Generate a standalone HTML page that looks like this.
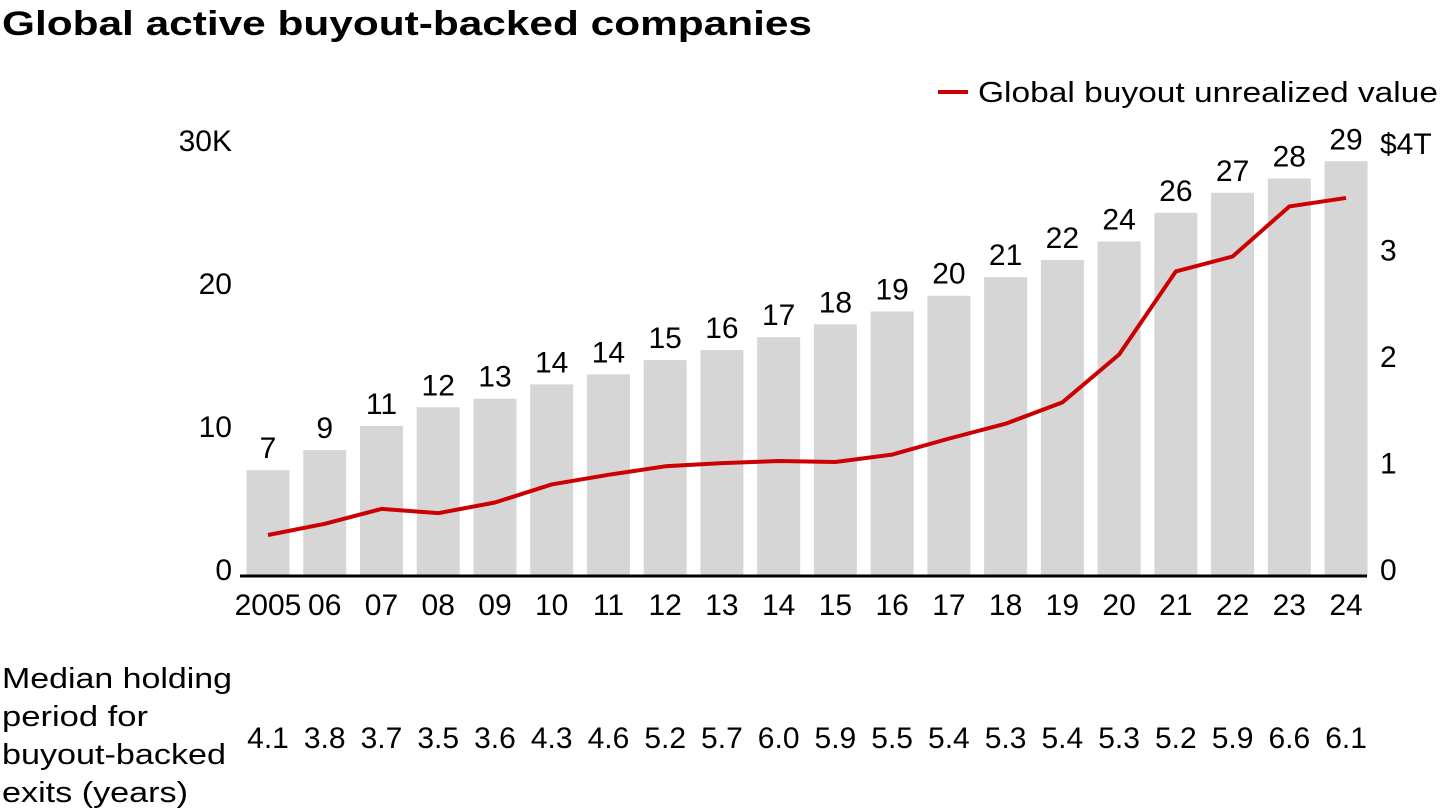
<!DOCTYPE html>
<html><head><meta charset="utf-8"><style>
body{margin:0;background:#fff;width:1440px;height:810px;overflow:hidden;font-family:"Liberation Sans",sans-serif;}
</style></head><body>
<svg id="c" width="1440" height="810" style="position:absolute;left:0;top:0;font-family:'Liberation Sans',sans-serif">
<text x="2" y="35" font-size="34" font-weight="bold" fill="#000" textLength="810" lengthAdjust="spacingAndGlyphs">Global active buyout-backed companies</text>
<g>
<line x1="938" y1="92" x2="968" y2="92" stroke="#cc0000" stroke-width="4"/>
<text x="978" y="102" font-size="29" fill="#000" textLength="460" lengthAdjust="spacingAndGlyphs">Global buyout unrealized value</text>
</g>
<g id="bars"></g><g id="lbl"></g><g id="axes"></g>
<g font-size="29" fill="#000">
<text x="2" y="688" textLength="230" lengthAdjust="spacingAndGlyphs">Median holding</text>
<text x="2" y="726" textLength="146" lengthAdjust="spacingAndGlyphs">period for</text>
<text x="2" y="764" textLength="224" lengthAdjust="spacingAndGlyphs">buyout-backed</text>
<text x="2" y="802" textLength="186" lengthAdjust="spacingAndGlyphs">exits (years)</text>
</g>
<g id="hold"></g>
</svg>
<script>
const years=["2005","06","07","08","09","10","11","12","13","14","15","16","17","18","19","20","21","22","23","24"];
const companies=[7.4,8.8,10.5,11.8,12.4,13.4,14.1,15.1,15.8,16.7,17.6,18.5,19.6,20.9,22.1,23.4,25.4,26.8,27.8,29.0];
const companyLabels=["7","9","11","12","13","14","14","15","16","17","18","19","20","21","22","24","26","27","28","29"];
const unrealized=[0.385,0.49,0.63,0.59,0.69,0.86,0.95,1.03,1.06,1.08,1.07,1.14,1.29,1.43,1.63,2.08,2.86,3.0,3.47,3.55];
const holding=["4.1","3.8","3.7","3.5","3.6","4.3","4.6","5.2","5.7","6.0","5.9","5.5","5.4","5.3","5.4","5.3","5.2","5.9","6.6","6.1"];
const leftTicks=[0,10,20,30];const leftTickLabels=["0","10","20","30K"];
const rightTicks=[0,1,2,3,4];const rightTickLabels=["0","1","2","3","$4T"];
const NS="http://www.w3.org/2000/svg";
const x=i=>268+i*56.74, yL=v=>576-v*14.3, yR=v=>576-v*106.5;
function mk(t,a,p,txt){const e=document.createElementNS(NS,t);for(const k in a)e.setAttribute(k,a[k]);if(txt!==undefined)e.textContent=txt;p.appendChild(e);return e;}
const B=document.getElementById('bars'),L=document.getElementById('lbl'),A=document.getElementById('axes'),H=document.getElementById('hold');
companies.forEach((v,i)=>{
 const r=mk('rect',{x:x(i)-21.5,y:yL(v),width:43,height:576-yL(v),fill:'#d6d6d6'},B);
 
 
 const t=mk('text',{x:x(i),y:yL(v)-12,'text-anchor':'middle','font-size':30,fill:'#000'},L,companyLabels[i]);
 
 
 const xl=mk('text',{x:x(i),y:615,'text-anchor':'middle','font-size':30,fill:'#000'},A,years[i]);
 
 
 const h=mk('text',{x:x(i),y:748,'text-anchor':'middle','font-size':30,fill:'#000'},H,holding[i]);
 
 
});
const ax=mk('line',{x1:240,y1:576,x2:1367,y2:576,stroke:'#000','stroke-width':3},A);


leftTicks.forEach((v,i)=>{const t=mk('text',{x:232,y:yL(v)+4,'text-anchor':'end','font-size':30,fill:'#000'},A,leftTickLabels[i]);
 
 });
rightTicks.forEach((v,i)=>{const t=mk('text',{x:1380,y:yR(v)+4,'font-size':30,fill:'#000'},A,rightTickLabels[i]);
 
 });
const pl=mk('polyline',{points:unrealized.map((v,i)=>x(i)+','+yR(v)).join(' '),fill:'none',stroke:'#cc0000','stroke-width':4,'stroke-linejoin':'round'},A);


</script>
</body></html>
